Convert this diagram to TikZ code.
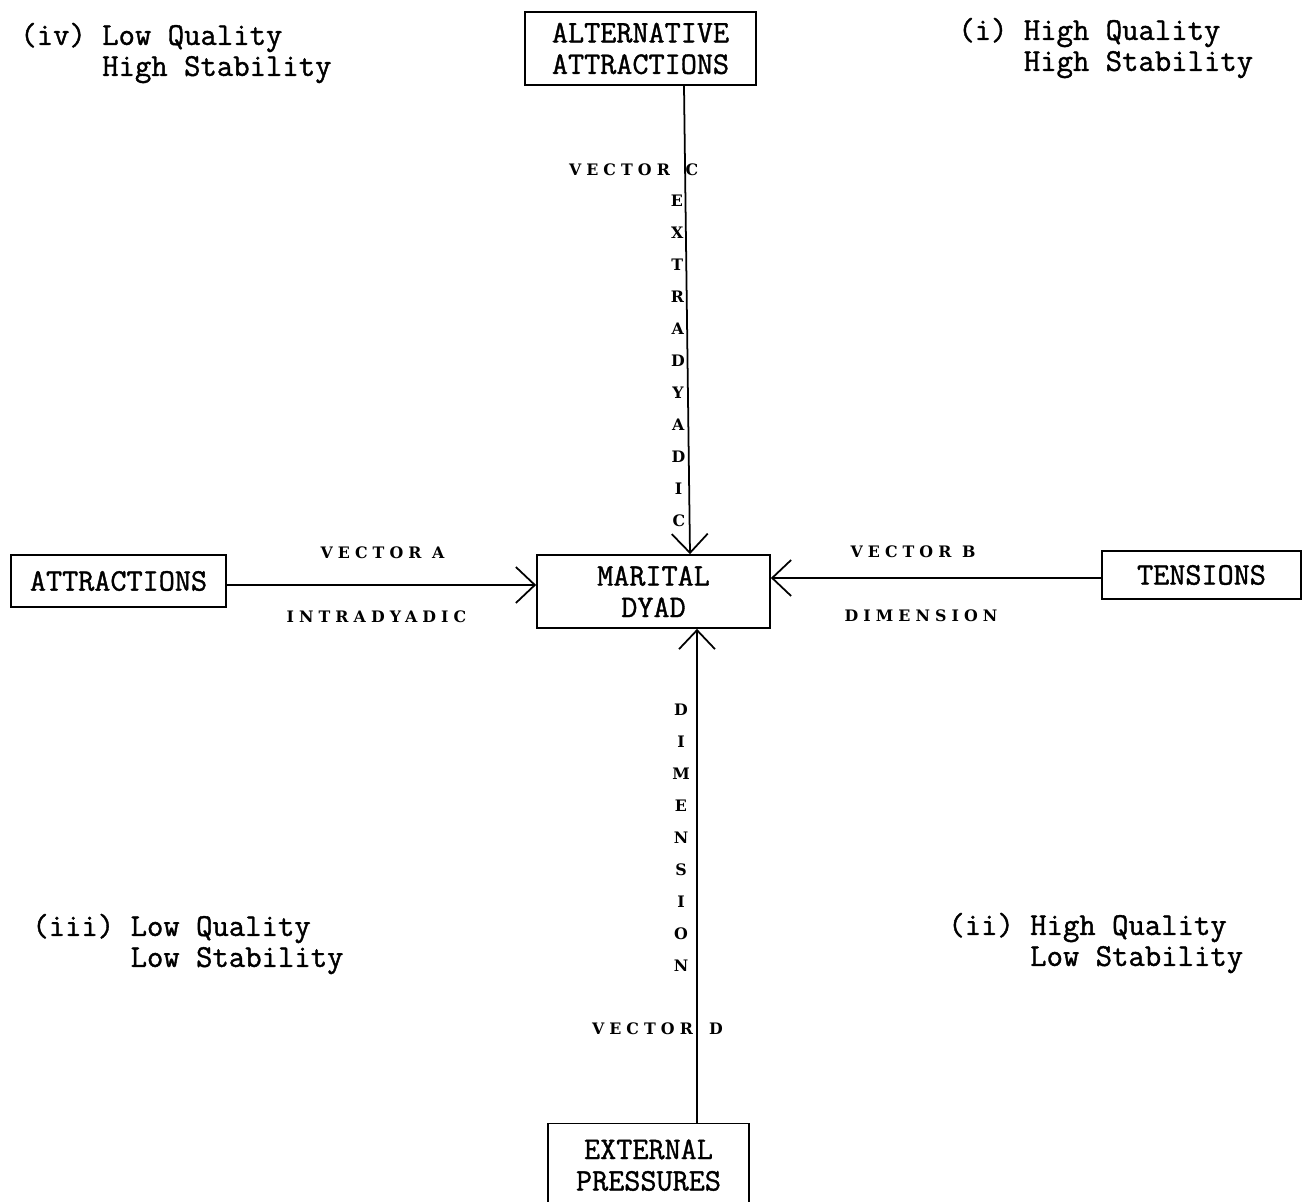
\documentclass[tikz,border=0pt]{standalone}
\usepackage{fontspec}
\setmainfont[FakeBold=1.2]{Latin Modern Mono}
\newfontfamily\lblfont[LetterSpace=32]{DejaVu Serif}
\usetikzlibrary{arrows.meta}
\tikzset{
  box/.style={draw, line width=1pt, inner sep=0pt, align=center, font=\fontsize{17.8pt}{0.63cm}\selectfont},
  quad/.style={anchor=west, align=left, inner sep=0pt, font=\fontsize{18.1pt}{0.62cm}\selectfont},
  lbl/.style={inner sep=0pt, font=\lblfont\bfseries\fontsize{9pt}{10pt}\selectfont},
  conn/.style={line width=1pt, -{Straight Barb[length=0.38cm,width=0.72cm,line width=1pt]}},
}
\begin{document}
\begin{tikzpicture}[x=0.02cm,y=-0.02cm]
\useasboundingbox (0,0) rectangle (1306,1202);
\fill[white] (0,0) rectangle (1306,1202);
% boxes
\node[box, minimum width=4.62cm, minimum height=1.46cm] (alt) at (640.5,48.5) {ALTERNATIVE\\ATTRACTIONS};
\node[box, minimum width=4.66cm, minimum height=1.46cm] (dyad) at (653.5,591.5) {MARITAL\\DYAD};
\node[box, minimum width=4.30cm, minimum height=1.04cm] (attr) at (118.5,581) {ATTRACTIONS};
\node[box, minimum width=3.98cm, minimum height=0.96cm] (tens) at (1201.5,575) {TENSIONS};
\node[box, minimum width=4.02cm, minimum height=1.66cm, text depth=0pt] (ext) at (648.5,1165) {EXTERNAL\\PRESSURES};
% connector end coordinates
\coordinate (cx1) at (684,0);
\coordinate (cx2) at (690,0);
\coordinate (dx) at (697,0);
\coordinate (ay) at (0,585);
\coordinate (by) at (0,578);
\draw[conn] (alt.south -| cx1) -- (dyad.north -| cx2);
\draw[conn] (ext.north -| dx) -- (dyad.south -| dx);
\draw[conn] (attr.east |- ay) -- (dyad.west |- ay);
\draw[conn] (tens.west |- by) -- (dyad.east |- by);
% labels
\node[lbl] (vc) at (619.5,170) {VECTOR};
\node[lbl] (vcc) at (692,170) {C};
\foreach \ch [count=\i from 0] in {E,X,T,R,A,D,Y,A,D,I,C} {
  \node[lbl] (cv\i) at ({677+0.18*\i},{201+32*\i}) {\ch};
}
\foreach \ch [count=\i from 0] in {D,I,M,E,N,S,I,O,N} {
  \node[lbl] (dv\i) at (681,{710+32*\i}) {\ch};
}
\node[lbl] (vd) at (642.5,1029) {VECTOR};
\node[lbl] (vdd) at (716,1029) {D};
\node[lbl] (va) at (382.5,553) {VECTOR A};
\node[lbl] (ia) at (376.5,617) {INTRADYADIC};
\node[lbl] (vb) at (913,552) {VECTOR B};
\node[lbl] (db) at (921,616) {DIMENSION};
% quadrants
\node[quad] (q4) at (20,53) {(iv) Low Quality\\\phantom{(iv) }High Stability};
\node[quad] (q1) at (958,48) {(i) High Quality\\\phantom{(i) }High Stability};
\node[quad] (q3) at (32,944) {(iii) Low Quality\\\phantom{(iii) }Low Stability};
\node[quad] (q2) at (948,943) {(ii) High Quality\\\phantom{(ii) }Low Stability};
\end{tikzpicture}
\end{document}
